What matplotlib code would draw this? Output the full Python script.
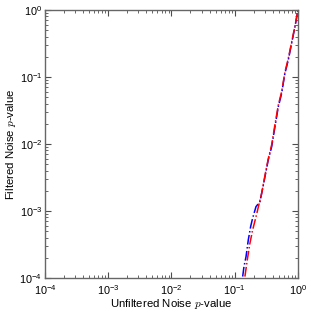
import numpy as np
import matplotlib
matplotlib.use("Agg")
import matplotlib.pyplot as plt

# Data (unfiltered p-value, filtered p-value)
blue_x = [0.1337, 0.140, 0.151, 0.164, 0.179, 0.192, 0.217, 0.251, 0.267, 0.301,
          0.339, 0.384, 0.433, 0.489, 0.552, 0.622, 0.703, 0.794, 0.898, 1.0]
blue_y = [0.000105, 0.000147, 0.000208, 0.00037, 0.00059, 0.00078, 0.00116, 0.00138,
          0.00184, 0.00325, 0.00577, 0.0091, 0.0181, 0.036, 0.057, 0.1135, 0.179,
          0.318, 0.564, 1.0]
red_x = [0.145, 0.158, 0.174, 0.192, 0.217, 0.244, 0.267, 0.301,
         0.339, 0.384, 0.433, 0.489, 0.552, 0.622, 0.703, 0.794, 0.898, 1.0]
red_y = [0.000105, 0.000186, 0.00033, 0.00052, 0.00082, 0.0013, 0.00184, 0.0034,
         0.0060, 0.0097, 0.0195, 0.038, 0.060, 0.118, 0.188, 0.33, 0.58, 1.0]

plt.rcParams['mathtext.fontset'] = 'cm'
plt.rcParams['font.family'] = ['Liberation Sans', 'DejaVu Sans']

fig = plt.figure(figsize=(3.12, 3.12), dpi=100)
ax = fig.add_axes([0.144, 0.109, 0.811, 0.859])
ax.plot(blue_x, blue_y, color='blue', linestyle='-.', linewidth=1.1)
ax.plot(red_x, red_y, color='red', linestyle='-.', linewidth=1.1)
ax.set_xscale('log')
ax.set_yscale('log')
ax.set_xlim(1e-4, 1)
ax.set_ylim(1e-4, 1)
ax.tick_params(which='both', direction='in', top=True, right=True, labelsize=7.8,
               color='0.3')
ax.tick_params(axis='y', pad=2)
ax.tick_params(axis='x', pad=4)
ax.tick_params(which='major', length=4)
ax.tick_params(which='minor', length=2)
for s in ax.spines.values():
    s.set_color('0.4')
    s.set_linewidth(1.0)
ax.set_xlabel('Unfiltered Noise $p$-value', fontsize=8.2, labelpad=0)
ax.set_ylabel('Filtered Noise $p$-value', fontsize=8.2, labelpad=1)
fig.savefig('out.png', dpi=100, facecolor='white')
